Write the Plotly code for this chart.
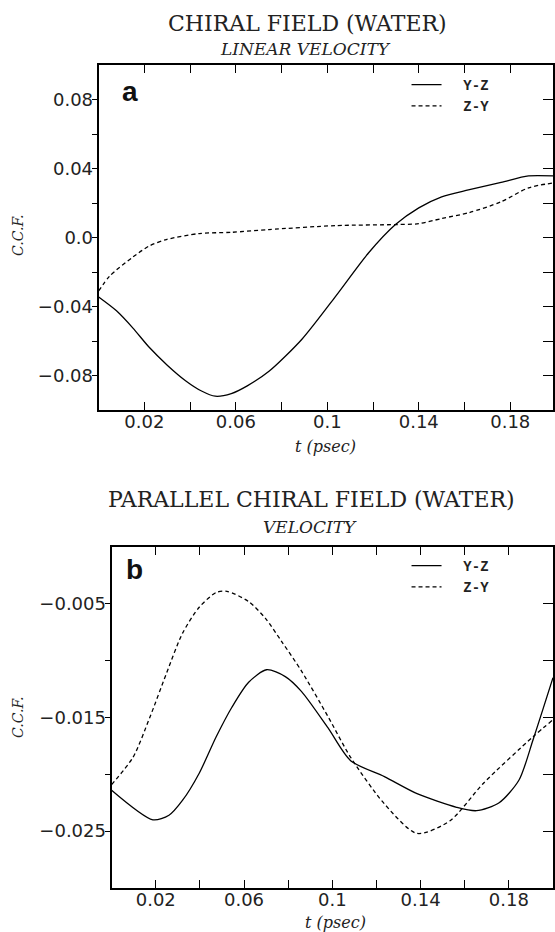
import plotly.graph_objects as go

# ---------------- data ----------------
# Panel a: CHIRAL FIELD (WATER) - LINEAR VELOCITY
t_a_yz = [0.0, 0.0078, 0.015, 0.022, 0.030, 0.038, 0.045, 0.051, 0.058, 0.065, 0.0745, 0.0889, 0.1037,
          0.118, 0.1298, 0.140, 0.150, 0.1617, 0.176, 0.188, 0.1987]
ccf_a_yz = [-0.0345, -0.0425, -0.0525, -0.0635, -0.074, -0.083, -0.089, -0.092, -0.0905, -0.086, -0.0776, -0.059, -0.034,
            -0.009, 0.0075, 0.0172, 0.0236, 0.0276, 0.032, 0.0357, 0.0357]
t_a_zy = [0.0, 0.0048, 0.0148, 0.022, 0.0296, 0.044, 0.058, 0.0745, 0.1037, 0.13,
          0.14, 0.15, 0.162, 0.176, 0.188, 0.1987]
ccf_a_zy = [-0.031, -0.0224, -0.0115, -0.005, -0.0012, 0.0023, 0.003, 0.0046, 0.0069, 0.0075,
            0.008, 0.011, 0.0144, 0.0207, 0.0288, 0.0316]

# Panel b: PARALLEL CHIRAL FIELD (WATER) - VELOCITY
t_b_yz = [0.0, 0.0187, 0.026, 0.0321, 0.0397, 0.0474, 0.0545, 0.0621, 0.0702, 0.0787, 0.0860,
          0.098, 0.1083, 0.1236, 0.1384, 0.1563, 0.1653, 0.1756, 0.1846, 0.1909, 0.2]
ccf_b_yz = [-0.0214, -0.0240, -0.0236, -0.0223, -0.0199, -0.0167, -0.0141, -0.0119, -0.0108, -0.0114, -0.0127,
            -0.0159, -0.0188, -0.0202, -0.0217, -0.0229, -0.0232, -0.0225, -0.0205, -0.017, -0.0115]
t_b_zy = [0.0, 0.0097, 0.0173, 0.0249, 0.0321, 0.0397, 0.0474, 0.0523, 0.0621, 0.0698,
          0.077, 0.0860, 0.098, 0.1083, 0.1236, 0.1384, 0.1532, 0.1684, 0.1909, 0.2]
ccf_b_zy = [-0.0209, -0.0185, -0.0150, -0.0111, -0.0076, -0.0053, -0.0040, -0.0039, -0.0048, -0.0063,
            -0.0083, -0.0109, -0.0149, -0.0185, -0.0226, -0.0252, -0.0241, -0.0208, -0.0167, -0.0152]

series_names = ["Y-Z", "Z-Y"]

# tick definitions
x_tickvals = [0.02, 0.04, 0.06, 0.08, 0.10, 0.12, 0.14, 0.16, 0.18]
x_ticktext = ["0.02", "", "0.06", "", "0.1", "", "0.14", "", "0.18"]
ya_tickvals = [-0.08, -0.06, -0.04, -0.02, 0.0, 0.02, 0.04, 0.06, 0.08]
ya_ticktext = ["\u22120.08", "", "\u22120.04", "", "0.0", "", "0.04", "", "0.08"]
yb_tickvals = [-0.025, -0.02, -0.015, -0.01, -0.005]
yb_ticktext = ["\u22120.025", "", "\u22120.015", "", "\u22120.005"]

titles = ["CHIRAL FIELD (WATER)", "PARALLEL CHIRAL FIELD (WATER)"]
subtitles = ["LINEAR VELOCITY", "VELOCITY"]
panel_letters = ["a", "b"]

# ---------------- figure ----------------
W, H = 555, 932
def px(x):
    return x / W
def py(y):
    return 1 - y / H

SERIF = "DejaVu Serif"
SANS = "DejaVu Sans"

fig = go.Figure()

line_style = dict(color="black", width=1.3, shape="spline", smoothing=0.75)
NB = "\u00a0\u00a0"

fig.add_trace(go.Scatter(x=t_a_yz, y=ccf_a_yz, mode="lines", name=NB + series_names[0],
                         line=dict(**line_style), xaxis="x", yaxis="y", legend="legend"))
fig.add_trace(go.Scatter(x=t_a_zy, y=ccf_a_zy, mode="lines", name=NB + series_names[1],
                         line=dict(**line_style, dash="4px,3px"), xaxis="x", yaxis="y", legend="legend"))
fig.add_trace(go.Scatter(x=t_b_yz, y=ccf_b_yz, mode="lines", name=NB + series_names[0],
                         line=dict(**line_style), xaxis="x2", yaxis="y3", legend="legend2"))
fig.add_trace(go.Scatter(x=t_b_zy, y=ccf_b_zy, mode="lines", name=NB + series_names[1],
                         line=dict(**line_style, dash="4px,3px"), xaxis="x2", yaxis="y3", legend="legend2"))

tickfont = dict(family=SANS, size=18, color="#222")

def xaxis_cfg(domain, rng, anchor):
    return dict(domain=domain, range=rng, anchor=anchor, tickvals=x_tickvals, ticktext=x_ticktext,
                ticks="inside", ticklen=8, tickwidth=1.2, tickcolor="black",
                showline=True, linecolor="black", linewidth=2, mirror="ticks",
                showgrid=False, zeroline=False, tickfont=tickfont, ticklabelstandoff=-6)

def yaxis_cfg(domain, rng, anchor, tv, tt):
    return dict(domain=domain, range=rng, anchor=anchor, tickvals=tv, ticktext=tt,
                ticks="outside", ticklen=5, tickwidth=1.2, tickcolor="black",
                showline=True, linecolor="black", linewidth=2, mirror=True,
                showgrid=False, zeroline=False, tickfont=tickfont, ticklabelstandoff=-5)

def yaxis_right(overlay, rng, anchor, tv, domain):
    return dict(overlaying=overlay, side="right", range=rng, anchor=anchor, tickvals=tv,
                ticks="inside", ticklen=10, tickwidth=1.2, tickcolor="black",
                showticklabels=False, showline=False, showgrid=False, zeroline=False, domain=domain)

dom_a_x = [px(99), 1.0]
dom_a_y = [py(410), py(65)]
dom_b_x = [px(112), 1.0]
dom_b_y = [py(888), py(547)]

legend_font = dict(family="Liberation Mono", size=14, color="#222", weight="bold")

fig.update_layout(
    width=W, height=H,
    margin=dict(l=0, r=0, t=0, b=0),
    paper_bgcolor="white", plot_bgcolor="white",
    xaxis=xaxis_cfg(dom_a_x, [0, 0.1987], "y"),
    yaxis=yaxis_cfg(dom_a_y, [-0.1, 0.1], "x", ya_tickvals, ya_ticktext),
    yaxis2=yaxis_right("y", [-0.1, 0.1], "x", ya_tickvals, dom_a_y),
    xaxis2=xaxis_cfg(dom_b_x, [0, 0.2], "y3"),
    yaxis3=yaxis_cfg(dom_b_y, [-0.03, 0.0], "x2", yb_tickvals, yb_ticktext),
    yaxis4=yaxis_right("y3", [-0.03, 0.0], "x2", yb_tickvals, dom_b_y),
    legend=dict(x=px(408), y=py(69), xanchor="left", yanchor="top",
                font=legend_font, bgcolor="rgba(0,0,0,0)",
                tracegroupgap=0, itemwidth=30, borderwidth=0),
    legend2=dict(x=px(408), y=py(550), xanchor="left", yanchor="top",
                 font=legend_font, bgcolor="rgba(0,0,0,0)",
                 tracegroupgap=0, itemwidth=30, borderwidth=0),
    showlegend=True,
)

# dummy traces to activate the right-hand tick axes
fig.add_trace(go.Scatter(x=[None], y=[None], xaxis="x", yaxis="y2", showlegend=False, hoverinfo="skip"))
fig.add_trace(go.Scatter(x=[None], y=[None], xaxis="x2", yaxis="y4", showlegend=False, hoverinfo="skip"))

ann = []
# titles
ann.append(dict(text=titles[0], x=px(309), y=py(24), font=dict(family=SERIF, size=22, color="#222")))
ann.append(dict(text="<i>" + subtitles[0] + "</i>", x=px(307), y=py(49), font=dict(family=SERIF, size=17, color="#222")))
ann.append(dict(text=titles[1], x=px(313), y=py(499), font=dict(family=SERIF, size=22, color="#222")))
ann.append(dict(text="<i>" + subtitles[1] + "</i>", x=px(311), y=py(527), font=dict(family=SERIF, size=17, color="#222")))
# panel letters
ann.append(dict(text="<b>" + panel_letters[0] + "</b>", x=px(130), y=py(91), font=dict(family="Liberation Sans", size=28, color="#111")))
ann.append(dict(text="<b>" + panel_letters[1] + "</b>", x=px(135), y=py(569), font=dict(family="Liberation Sans", size=28, color="#111")))
# axis titles
for yy in (235, 717):
    ann.append(dict(text="<i>C.C.F.</i>", x=px(18), y=py(yy), textangle=-90,
                    font=dict(family=SERIF, size=14, color="#222")))
ann.append(dict(text="<i>t (psec)</i>", x=px(327), y=py(446), font=dict(family=SERIF, size=16, color="#222")))
ann.append(dict(text="<i>t (psec)</i>", x=px(337), y=py(922), font=dict(family=SERIF, size=16, color="#222")))

for a in ann:
    a.update(xref="paper", yref="paper", showarrow=False, xanchor="center", yanchor="middle")
fig.update_layout(annotations=ann)

fig.write_html("out.html", config={"displayModeBar": False},
               post_script="document.body.style.margin='0px';document.body.style.overflow='hidden';")
